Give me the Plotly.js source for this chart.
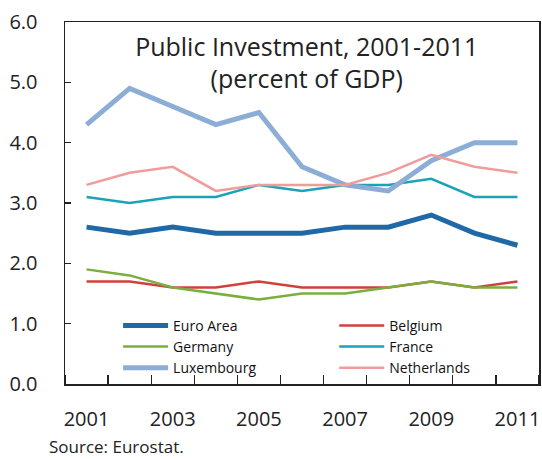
<!DOCTYPE html>
<html>
<head>
<meta charset="utf-8">
<script src="https://cdn.plot.ly/plotly-3.0.1.min.js"></script>
<style>html,body{margin:0;padding:0;background:#fff;}</style>
</head>
<body>
<div id="chart" style="width:542px;height:459px;"></div>
<script>
const years = [2001, 2002, 2003, 2004, 2005, 2006, 2007, 2008, 2009, 2010, 2011];
const euroArea    = [2.6, 2.5, 2.6, 2.5, 2.5, 2.5, 2.6, 2.6, 2.8, 2.5, 2.3];
const belgium     = [1.7, 1.7, 1.6, 1.6, 1.7, 1.6, 1.6, 1.6, 1.7, 1.6, 1.7];
const germany     = [1.9, 1.8, 1.6, 1.5, 1.4, 1.5, 1.5, 1.6, 1.7, 1.6, 1.6];
const france      = [3.1, 3.0, 3.1, 3.1, 3.3, 3.2, 3.3, 3.3, 3.4, 3.1, 3.1];
const luxembourg  = [4.3, 4.9, 4.6, 4.3, 4.5, 3.6, 3.3, 3.2, 3.7, 4.0, 4.0];
const netherlands = [3.3, 3.5, 3.6, 3.2, 3.3, 3.3, 3.3, 3.5, 3.8, 3.6, 3.5];
const seriesNames = ["Euro Area", "Belgium", "Germany", "France", "Luxembourg", "Netherlands"];

const FONT = "Open Sans, sans-serif";
const styles = [
  {color: "#1F69A6", width: 5,   legend: "legend"},
  {color: "#D2403B", width: 2.5, legend: "legend2"},
  {color: "#7BAE3F", width: 2.5, legend: "legend"},
  {color: "#1AA3B6", width: 2.5, legend: "legend2"},
  {color: "#8CADD6", width: 5,   legend: "legend"},
  {color: "#F09C9B", width: 2.5, legend: "legend2"}
];
const seriesData = [euroArea, belgium, germany, france, luxembourg, netherlands];

const traces = seriesData.map((vals, i) => ({
  x: years, y: vals, name: seriesNames[i], type: "scatter", mode: "lines",
  line: {color: styles[i].color, width: styles[i].width},
  legend: styles[i].legend
}));

const legendBase = {
  orientation: "v", xanchor: "left", y: 0.205, yanchor: "top",
  font: {family: FONT, size: 14, color: "#111"},
  itemwidth: 45, bgcolor: "rgba(0,0,0,0)", tracegroupgap: 0
};

const layout = {
  width: 542, height: 459,
  margin: {l: 65, r: 3, t: 22, b: 75},
  paper_bgcolor: "#fff", plot_bgcolor: "#fff",
  font: {family: FONT, color: "#222"},
  title: {
    text: "Public Investment, 2001-2011<br>(percent of GDP)",
    font: {family: FONT, size: 25, color: "#222"},
    xref: "paper", x: 0.51, xanchor: "center", y: 0.879, yanchor: "top"
  },
  xaxis: {
    range: [2000.5, 2011.5], tick0: 2001, dtick: 2,
    ticks: "", showgrid: false, zeroline: false,
    showline: true, linecolor: "#222", linewidth: 1.5, mirror: true,
    tickfont: {family: FONT, size: 20, color: "#222"},
    ticklabelstandoff: 16,
    minor: {tick0: 2000.5, dtick: 1, ticks: "inside", ticklen: 9, tickcolor: "#222", tickwidth: 1.2, showgrid: false}
  },
  yaxis: {
    range: [0, 6], dtick: 1, tickformat: ".1f",
    ticks: "inside", ticklen: 6, tickcolor: "#222", tickwidth: 1.2,
    showgrid: false, zeroline: false,
    showline: true, linecolor: "#222", linewidth: 1.5, mirror: true,
    tickfont: {family: FONT, size: 20, color: "#222"},
    ticklabelstandoff: 22
  },
  legend: Object.assign({}, legendBase, {x: 0.112}),
  legend2: Object.assign({}, legendBase, {x: 0.568}),
  showlegend: true,
  annotations: [{
    text: "Source: Eurostat.", xref: "paper", yref: "paper",
    x: -0.035, y: -0.172, xanchor: "left", yanchor: "middle", borderpad: 0,
    showarrow: false, font: {family: FONT, size: 17, color: "#222"}
  }]
};

Plotly.newPlot("chart", traces, layout, {displayModeBar: false, staticPlot: true});
</script>
</body>
</html>
